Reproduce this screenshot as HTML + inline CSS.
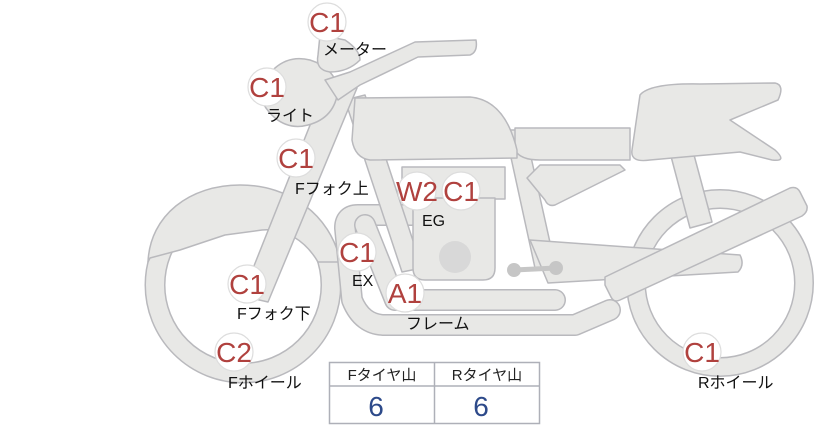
<!DOCTYPE html>
<html><head><meta charset="utf-8"><style>
html,body{margin:0;padding:0;background:#fff;}
svg{display:block;}
.t{font-family:"Liberation Sans","Noto Sans CJK JP",sans-serif;font-size:16px;fill:#111;}
.b{font-family:"Liberation Sans","Noto Sans CJK JP",sans-serif;font-size:28px;fill:#b0413e;text-anchor:middle;}
.h{font-family:"Liberation Sans","Noto Sans CJK JP",sans-serif;font-size:15px;fill:#222;text-anchor:middle;}
.v{font-family:"Liberation Sans",sans-serif;font-size:28px;fill:#2d4a8a;text-anchor:middle;}
</style></head><body>
<svg width="822" height="425" viewBox="0 0 822 425">
<g fill="#e8e8e6" stroke="#b9b9bd" stroke-width="1.5" stroke-linejoin="round">
<circle cx="720" cy="283" r="84" fill="none" stroke="#b9b9bd" stroke-width="20"/>
<circle cx="720" cy="283" r="84" fill="none" stroke="#e8e8e6" stroke-width="17"/>
<circle cx="243" cy="285" r="88" fill="none" stroke="#b9b9bd" stroke-width="21"/>
<circle cx="243" cy="285" r="88" fill="none" stroke="#e8e8e6" stroke-width="18"/>
<path d="M148,262 C150,215 190,185 240,185 C290,185 330,215 340,260 L340,262 L318,262 C305,240 285,228 262,230 L225,235 L180,250 L150,258 Z"/>
<path d="M668,145 L690,140 L712,222 L690,228 Z"/>
<path d="M412,215 L358,215 Q345,215 345,228 L352,300 Q362,325 385,325 L575,325 L610,310" fill="none" stroke="#b9b9bd" stroke-width="22" stroke-linecap="round"/>
<path d="M412,215 L358,215 Q345,215 345,228 L352,300 Q362,325 385,325 L575,325 L610,310" fill="none" stroke="#e8e8e6" stroke-width="19" stroke-linecap="round"/>
<path d="M365,225 L395,300 L555,300" fill="none" stroke="#b9b9bd" stroke-width="22" stroke-linecap="round"/>
<path d="M365,225 L395,300 L555,300" fill="none" stroke="#e8e8e6" stroke-width="19" stroke-linecap="round"/>
<path d="M345,100 L365,95 L422,268 L402,272 Z"/>
<path d="M505,130 L525,130 L555,265 L535,268 Z"/>
<path d="M530,240 L740,255 Q745,265 738,272 L548,283 Z"/>
<rect x="402" y="167" width="103" height="32"/>
<path d="M413,198 L495,198 L495,268 Q495,280 483,280 L425,280 Q413,280 413,268 Z"/>
<circle cx="455" cy="257" r="16" fill="#d8d8d8" stroke="none"/>
<line x1="514" y1="270" x2="556" y2="268" stroke="#c6c6c6" stroke-width="5"/>
<circle cx="514" cy="270" r="7" fill="#c6c6c6" stroke="none"/>
<circle cx="556" cy="268" r="7" fill="#c6c6c6" stroke="none"/>
<path d="M605,277 L790,188 Q797,186 800,192 L807,206 Q808,212 802,216 L620,300 Q614,303 611,297 L605,285 Z"/>
<path d="M527,178 L540,165 L620,165 L625,170 L555,205 Q548,207 545,200 Z"/>
<path d="M515,128 L630,128 L630,160 L540,160 Q520,160 515,150 Z"/>
<path d="M640,95 Q650,83 700,84 L775,83 Q785,85 778,100 L730,120 L775,150 Q788,162 772,160 L740,152 L650,160 Q630,163 632,150 Z"/>
<path d="M355,98 L470,97 Q505,100 517,150 L517,158 L370,160 Q355,158 352,140 Z"/>
<path d="M328,80 L357,88 L268,302 L242,296 Z"/>
<path d="M275,68 Q290,55 310,60 Q335,68 338,90 Q335,118 308,125 Q290,130 275,118 Q255,100 262,82 Z"/>
<path d="M325,80 L350,72 L415,42 L476,40 Q478,52 470,55 L418,57 L360,85 L338,100 Z"/>
<path d="M320,35 L345,40 Q360,50 360,60 Q348,72 330,72 Q315,70 318,55 Z"/>
</g>
<g fill="#fff" stroke="#ddd" stroke-width="1.2">
<circle cx="327" cy="22" r="19"/>
<circle cx="267" cy="87" r="19"/>
<circle cx="296" cy="158" r="19"/>
<circle cx="417" cy="191" r="19"/>
<circle cx="461" cy="191" r="19"/>
<circle cx="357" cy="252" r="19"/>
<circle cx="405" cy="293" r="19"/>
<circle cx="247" cy="284" r="19"/>
<circle cx="234" cy="352" r="19"/>
<circle cx="702" cy="352" r="19"/>
</g>
<g>
<text x="327" y="32" class="b">C1</text>
<text x="267" y="97" class="b">C1</text>
<text x="296" y="168" class="b">C1</text>
<text x="417" y="201" class="b">W2</text>
<text x="461" y="201" class="b">C1</text>
<text x="357" y="262" class="b">C1</text>
<text x="405" y="303" class="b">A1</text>
<text x="247" y="294" class="b">C1</text>
<text x="234" y="362" class="b">C2</text>
<text x="702" y="362" class="b">C1</text>
</g>
<text x="323" y="55" class="t">メーター</text>
<text x="266" y="121" class="t">ライト</text>
<text x="295" y="194" class="t">Fフォク上</text>
<text x="422" y="226" class="t">EG</text>
<text x="352" y="286" class="t">EX</text>
<text x="237" y="319" class="t">Fフォク下</text>
<text x="406" y="329" class="t">フレーム</text>
<text x="228" y="388" class="t">Fホイール</text>
<text x="698" y="388" class="t">Rホイール</text>
<g fill="none" stroke="#aeb0b8" stroke-width="1.5">
<rect x="329.5" y="362.5" width="210" height="61"/>
<line x1="329" y1="386" x2="540" y2="386"/>
<line x1="434.5" y1="362" x2="434.5" y2="424"/>
</g>
<text x="382" y="380" class="h">Fタイヤ山</text>
<text x="487" y="380" class="h">Rタイヤ山</text>
<text x="376" y="416" class="v">6</text>
<text x="481" y="416" class="v">6</text>
</svg>
</body></html>
